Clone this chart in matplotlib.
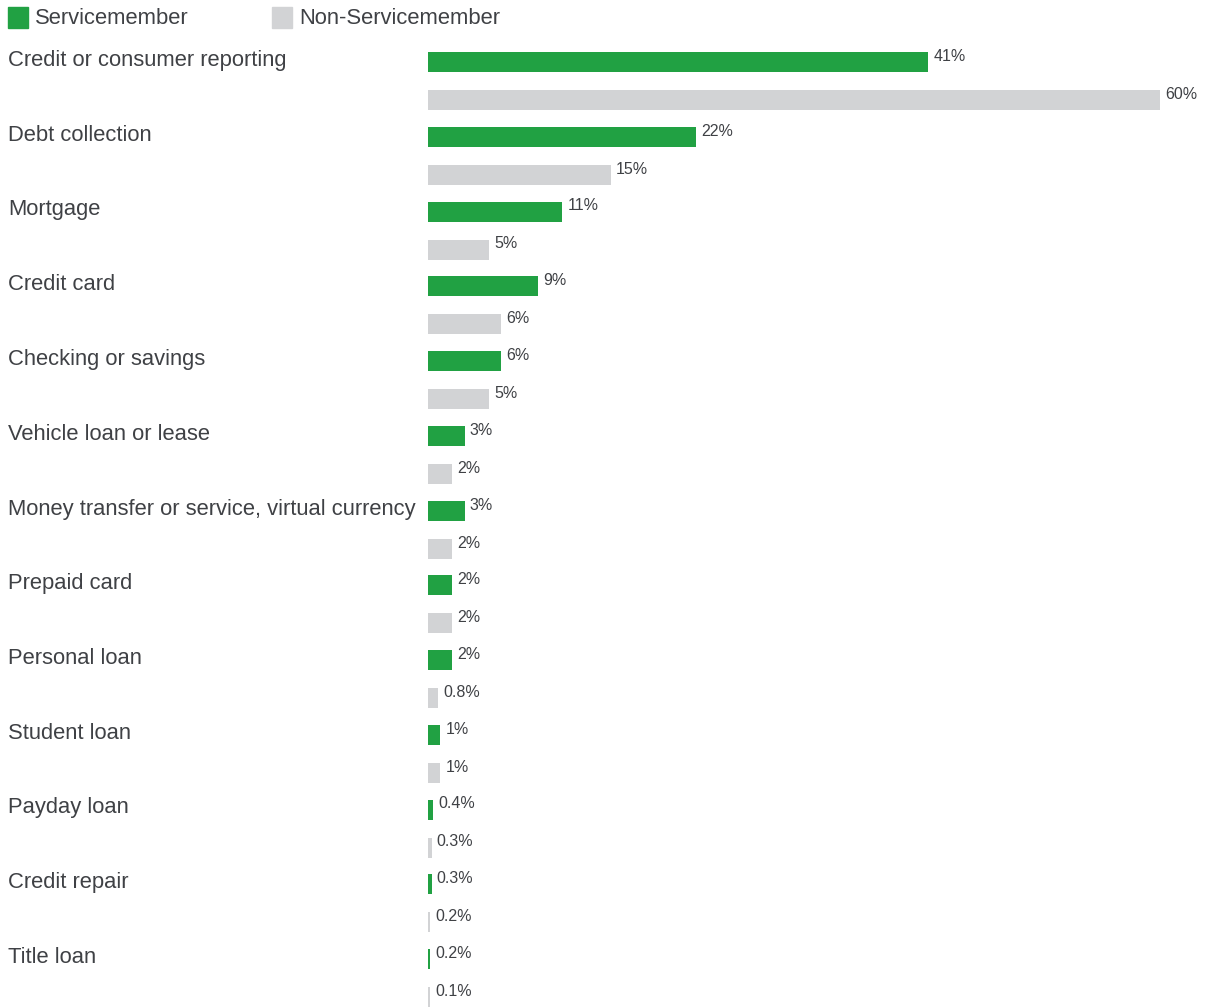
import matplotlib
matplotlib.use("Agg")
import matplotlib.pyplot as plt
from matplotlib.patches import Rectangle
from matplotlib.transforms import blended_transform_factory

# categorias e percentuais (Servicemember x Non-Servicemember)
categorias = [
    "Credit or consumer reporting",
    "Debt collection",
    "Mortgage",
    "Credit card",
    "Checking or savings",
    "Vehicle loan or lease",
    "Money transfer or service, virtual currency",
    "Prepaid card",
    "Personal loan",
    "Student loan",
    "Payday loan",
    "Credit repair",
    "Title loan",
]
servicemember = [41, 22, 11, 9, 6, 3, 3, 2, 2, 1, 0.4, 0.3, 0.2]
nao_servicemember = [60, 15, 5, 6, 5, 2, 2, 2, 0.8, 1, 0.3, 0.2, 0.1]

VERDE = "#21a143"
CINZA = "#d2d3d5"
TEXTO = "#3f4145"
W, H = 1207, 1008
PASSO = 74.75          # px entre categorias
DESLOC = 38 / PASSO    # deslocamento da barra cinza
ALTURA = 20 / PASSO

plt.rcParams["font.family"] = ["Liberation Sans", "DejaVu Sans"]

fig = plt.figure(figsize=(W / 100, H / 100), dpi=100)
ax = fig.add_axes([428 / W, 0, 732 / W, 1])
ax.set_xlim(0, 60)
ax.set_ylim((H - 62) / PASSO, -62 / PASSO)
ax.axis("off")


def rotulo(v):
    return f"{v:.1f}%" if v < 1 else f"{v:.0f}%"


px = 1 / PASSO
trans_fig = blended_transform_factory(fig.transFigure, ax.transData)

for i, (cat, sm, nsm) in enumerate(zip(categorias, servicemember, nao_servicemember)):
    y_sm = i
    y_nsm = i + DESLOC
    ax.barh(y_sm, max(sm, 0.15), height=ALTURA, color=VERDE)
    ax.barh(y_nsm, max(nsm, 0.15), height=ALTURA, color=CINZA)
    ax.text(max(sm, 0.15) + 0.42, y_sm - 1 * px, rotulo(sm), fontsize=11.5,
            color=TEXTO, va="baseline", ha="left", clip_on=False)
    ax.text(max(nsm, 0.15) + 0.42, y_nsm - 1 * px, rotulo(nsm), fontsize=11.5,
            color=TEXTO, va="baseline", ha="left", clip_on=False)
    ax.text(8 / W, y_sm + 4 * px, cat, transform=trans_fig, fontsize=15.8,
            color=TEXTO, va="baseline", ha="left")

# legenda manual no topo
for x0, cor, nome in [(8, VERDE, "Servicemember"), (272, CINZA, "Non-Servicemember")]:
    fig.add_artist(Rectangle((x0 / W, 1 - 28 / H), 20 / W, 21 / H,
                             color=cor, transform=fig.transFigure))
    fig.text((x0 + 27) / W, 1 - 24 / H, nome, fontsize=15.8, color=TEXTO,
             va="baseline", ha="left")

fig.savefig("out.png", dpi=100)
